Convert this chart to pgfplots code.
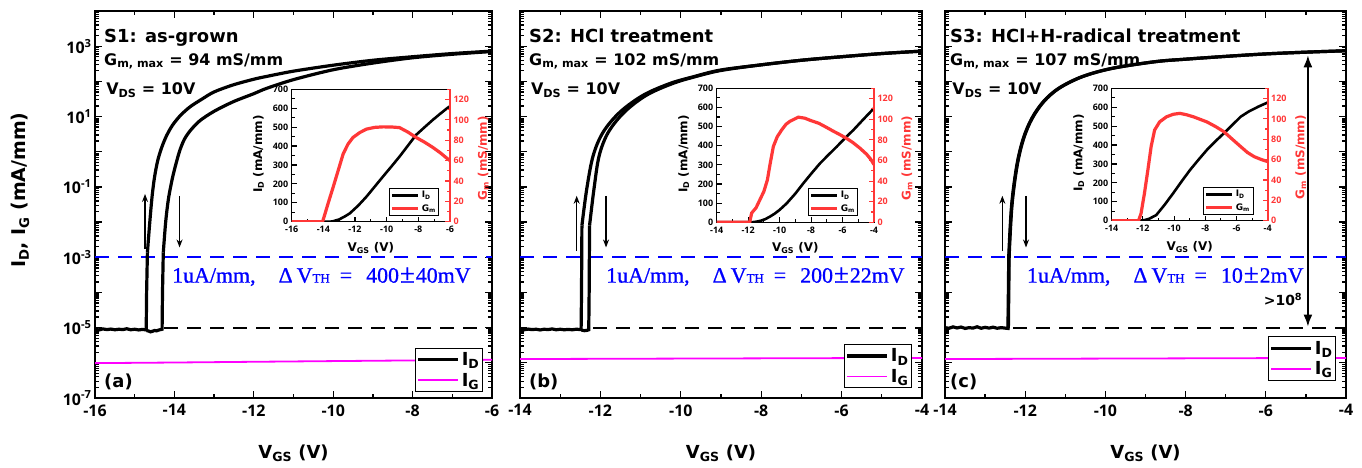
\documentclass[border=0pt]{standalone}
\usepackage{fontspec}
\setmainfont{Open Sans}
\newfontfamily\dvs{DejaVu Sans}
\newfontfamily\lser{Liberation Serif}[FakeBold=0.8]
\usepackage{pgfplots}
\pgfplotsset{compat=1.18}
\usetikzlibrary{arrows.meta}
\definecolor{myblue}{RGB}{0,0,255}
\definecolor{mymag}{RGB}{255,0,255}
\definecolor{myred}{RGB}{255,55,55}
\newcommand\tkf{\bfseries\fontsize{16}{16}\selectfont}
\newcommand\lbf{\dvs\bfseries\fontsize{18}{18}\selectfont}
\newcommand\itk{\bfseries\fontsize{9}{9}\selectfont}
\newcommand\ilb{\dvs\bfseries\fontsize{12}{12}\selectfont}
\newcommand\ann{\dvs\bfseries\fontsize{16}{16}\selectfont}
\newcommand\ttl{\dvs\bfseries\fontsize{18}{18}\selectfont}
\newcommand\lgf{\dvs\bfseries\fontsize{9}{9}\selectfont}
\newcommand\bluef{\lser\fontsize{22}{22}\selectfont}
\newcommand\thf{\fontsize{13}{13}\selectfont}
\newcommand\pmf{{\fontsize{27}{27}\selectfont ±}}
\tikzset{
  idline/.style={black, line width=3.2bp},
  igline/.style={mymag, line width=1.8bp},
  bdash/.style={myblue, line width=2.2bp, dash pattern=on 14bp off 9bp},
  kdash/.style={black, line width=2bp, dash pattern=on 14bp off 9bp},
  thinarr/.style={black, line width=1.2bp},
}
\begin{document}
\begin{tikzpicture}
\useasboundingbox (0,0) rectangle (1362bp,468bp);
%================ Panel (a)
\begin{axis}[at={(95bp,70bp)}, anchor=south west, scale only axis, width=397bp, height=387bp,
  xmin=-16, xmax=-6, ymode=log, ymin=1e-7, ymax=1e4,
  ytick={1e-7,1e-6,1e-5,1e-4,1e-3,1e-2,1e-1,1,1e1,1e2,1e3,1e4},
  yticklabels={10\textsuperscript{-7},,10\textsuperscript{-5},,10\textsuperscript{-3},,10\textsuperscript{-1},,10\textsuperscript{1},,10\textsuperscript{3},},
  minor ytick={2e-7,3e-7,4e-7,5e-7,6e-7,7e-7,8e-7,9e-7,2e-6,3e-6,4e-6,5e-6,6e-6,7e-6,8e-6,9e-6,
   2e-5,3e-5,4e-5,5e-5,6e-5,7e-5,8e-5,9e-5,2e-4,3e-4,4e-4,5e-4,6e-4,7e-4,8e-4,9e-4,
   2e-3,3e-3,4e-3,5e-3,6e-3,7e-3,8e-3,9e-3,0.02,0.03,0.04,0.05,0.06,0.07,0.08,0.09,
   0.2,0.3,0.4,0.5,0.6,0.7,0.8,0.9,2,3,4,5,6,7,8,9,20,30,40,50,60,70,80,90,
   200,300,400,500,600,700,800,900,2000,3000,4000,5000,6000,7000,8000,9000},
  xtick={-16,-14,-12,-10,-8,-6}, minor xtick={-15,-13,-11,-9,-7},
  axis line style={line width=2.2bp}, tick style={black, line width=1.3bp},
  major tick length=7bp, minor tick length=4bp, tick align=inside,
  /pgf/number format/assume math mode=true,
  ticklabel style={font=\tkf}, xticklabel style={yshift=-3bp},
  xlabel={V\textsubscript{GS} (V)},
  xlabel style={font=\lbf, at={(axis description cs:0.5,0)}, yshift=-55bp, anchor=center},
  ylabel={I\textsubscript{D}, I\textsubscript{G} (mA/mm)},
  ylabel style={font=\dvs\bfseries\fontsize{19}{19}\selectfont, at={(axis description cs:-0.189,0.537)}, anchor=center},
  legend cell align=left,
  legend style={at={(0.977,0.0155)}, anchor=south east, draw=black, line width=1bp, fill=white,
      font=\lbf, inner xsep=1bp, inner ysep=2bp, row sep=2bp, nodes={inner xsep=2bp}},
  legend image code/.code={\draw[#1] (0bp,0bp) -- (40bp,0bp);}]
\addplot[bdash, forget plot] coordinates {(-16,1e-3) (-6,1e-3)};
\addplot[kdash, forget plot] coordinates {(-14.25,1e-5) (-6,1e-5)};
\addplot[idline] coordinates {
(-16,9.0e-6) (-15.9,8.6e-6) (-15.8,9.2e-6) (-15.7,8.8e-6) (-15.6,9.1e-6) (-15.5,8.7e-6)
(-15.4,9.0e-6) (-15.3,8.8e-6) (-15.2,9.3e-6) (-15.1,8.7e-6) (-15.0,9.0e-6) (-14.9,8.6e-6)
(-14.8,8.9e-6) (-14.71,8.6e-6) (-14.70,1e-4) (-14.68,1.35e-3)};
\addlegendentry{I\textsubscript{D}}
\addplot[idline, smooth, tension=0.5, forget plot] coordinates {
(-14.68,1.35e-3) (-14.62,0.01) (-14.56,0.0562) (-14.50,0.191) (-14.42,0.562) (-14.32,1.32)
(-14.2,2.82) (-14.05,5.62) (-13.85,10.7) (-13.6,19.1) (-13.3,31.6) (-13.0,50.1) (-12.52,79.4)
(-12.0,115) (-11.68,138) (-11.0,195) (-10.0,288) (-9.0,398) (-8.0,501) (-7.0,617) (-6.0,724)};
\addplot[idline, forget plot] coordinates {
(-14.70,8.3e-6) (-14.65,8.0e-6) (-14.6,7.6e-6) (-14.55,7.9e-6) (-14.5,8.3e-6) (-14.45,8.1e-6)
(-14.4,8.5e-6) (-14.35,8.8e-6) (-14.31,9.0e-6) (-14.30,1e-4) (-14.28,1.35e-3)};
\addplot[idline, smooth, tension=0.5, forget plot] coordinates {
(-14.28,1.35e-3) (-14.22,0.01) (-14.15,0.0457) (-14.05,0.178) (-13.95,0.501) (-13.86,1.12)
(-13.75,2.24) (-13.6,3.98) (-13.36,7.59) (-13.0,14.1) (-12.52,26.3) (-12.0,44.7) (-11.68,63.1)
(-11.0,112) (-10.0,214) (-9.0,331) (-8.0,468) (-7.0,589) (-6.0,708)};
\addplot[igline] coordinates {(-16,0.98e-6) (-14,1.02e-6) (-12,1.07e-6) (-10,1.12e-6) (-8,1.17e-6) (-6,1.22e-6)};
\addlegendentry{I\textsubscript{G}}
\draw[thinarr, -{Stealth[length=8bp,width=6bp]}] (axis cs:-14.74,1.7e-3) -- (axis cs:-14.74,0.063);
\draw[thinarr, -{Stealth[length=8bp,width=6bp]}] (axis cs:-13.87,0.056) -- (axis cs:-13.87,1.9e-3);
\node[anchor=base west, inner sep=0, font=\ttl] at (axis description cs:0.0227,0.919) {S1: as-grown};
\node[anchor=base west, inner sep=0, font=\ann] at (axis description cs:0.0227,0.860) {G\textsubscript{m, max} = 94 mS/mm};
\node[anchor=base west, inner sep=0, font=\ann] at (axis description cs:0.028,0.783) {V\textsubscript{DS} = 10V};
\node[anchor=base west, inner sep=0, font=\ttl] at (axis description cs:0.0227,0.028) {(a)};
\node[anchor=base west, inner sep=0, text=myblue, font=\bluef] at (axis cs:-14.06,1.9e-4)
 {1uA/mm,\hspace{23bp}Δ\hspace{4bp}V{\thf TH}\hspace{10bp}=\hspace{14bp}400\hspace{1bp}\pmf\hspace{1bp}40mV};
\end{axis}
% inset (a)
\begin{axis}[at={(291.7bp,246.3bp)}, anchor=south west, scale only axis, width=158.3bp, height=132.4bp,
  xmin=-16, xmax=-6, ymin=0, ymax=700,
  ytick={0,100,...,700}, minor ytick={50,150,...,650},
  xtick={-16,-14,...,-6}, minor xtick={-15,-13,...,-7},
  xtick pos=bottom, ytick pos=left, tick align=inside,
  axis line style={line width=1.5bp}, tick style={black, line width=1.1bp},
  major tick length=5bp, minor tick length=3bp,
  /pgf/number format/assume math mode=true,
  ticklabel style={font=\itk}, xticklabel style={yshift=-1bp},
  axis background/.style={fill=white},
  xlabel={V\textsubscript{GS} (V)},
  xlabel style={font=\ilb, at={(axis description cs:0.5,0)}, yshift=-26bp, anchor=center},
  ylabel={I\textsubscript{D} (mA/mm)},
  ylabel style={font=\ilb, at={(axis description cs:-0.21,0.51)}, anchor=center},
  legend cell align=left,
  legend style={at={(0.932,0.043)}, anchor=south east, draw=black, line width=0.8bp, fill=white,
      font=\lgf, inner xsep=1bp, inner ysep=1bp, row sep=1bp},
  legend image code/.code={\draw[#1] (0bp,0bp) -- (26bp,0bp);}]
\addplot[black, line width=2.6bp] coordinates {
(-16,0) (-14,0) (-13.6,0) (-13.4,2) (-13.0,12) (-12.6,30) (-12.33,44) (-11.8,85) (-11.28,132)
(-10.76,185) (-10.24,238) (-9.7,292) (-9.19,344) (-8.66,402) (-8.14,459) (-7.6,500) (-7.09,538)
(-6.6,572) (-6.15,602) (-6,610)};
\addlegendentry{I\textsubscript{D}}
\addlegendimage{myred, line width=3.2bp}
\addlegendentry{G\textsubscript{m}}
\end{axis}
\begin{axis}[at={(291.7bp,246.3bp)}, anchor=south west, scale only axis, width=158.3bp, height=132.4bp,
  xmin=-16, xmax=-6, ymin=0, ymax=130,
  axis y line*=right, axis x line=none,
  ytick={0,20,...,120}, minor ytick={10,30,...,130}, tick align=inside,
  y axis line style={myred, line width=1.6bp}, tick style={myred, line width=1.1bp},
  major tick length=5bp, minor tick length=3bp,
  /pgf/number format/assume math mode=true,
  yticklabel style={font=\itk, text=myred},
  ylabel={G\textsubscript{m} (mS/mm)},
  ylabel style={font=\ilb, text=myred, at={(axis description cs:1.21,0.48)}, anchor=center}]
\addplot[myred, line width=3.2bp] coordinates {
(-16,0) (-14.05,0) (-13.95,5) (-13.7,18) (-13.38,34) (-13.05,51) (-12.75,66.5) (-12.45,76)
(-12.13,82.7) (-11.7,87.5) (-11.28,90.9) (-10.76,92.6) (-10.24,93.1) (-9.7,93) (-9.19,92.4)
(-8.66,88) (-8.14,82.7) (-7.6,78) (-7.09,73) (-6.6,67.5) (-6.15,61.7) (-6,60)};
\end{axis}
%================ Panel (b)
\begin{axis}[at={(520bp,70bp)}, anchor=south west, scale only axis, width=402bp, height=387bp,
  xmin=-14, xmax=-4, ymode=log, ymin=1e-7, ymax=1e4,
  ytick={1e-7,1e-6,1e-5,1e-4,1e-3,1e-2,1e-1,1,1e1,1e2,1e3,1e4}, yticklabels={},
  minor ytick={2e-7,3e-7,4e-7,5e-7,6e-7,7e-7,8e-7,9e-7,2e-6,3e-6,4e-6,5e-6,6e-6,7e-6,8e-6,9e-6,
   2e-5,3e-5,4e-5,5e-5,6e-5,7e-5,8e-5,9e-5,2e-4,3e-4,4e-4,5e-4,6e-4,7e-4,8e-4,9e-4,
   2e-3,3e-3,4e-3,5e-3,6e-3,7e-3,8e-3,9e-3,0.02,0.03,0.04,0.05,0.06,0.07,0.08,0.09,
   0.2,0.3,0.4,0.5,0.6,0.7,0.8,0.9,2,3,4,5,6,7,8,9,20,30,40,50,60,70,80,90,
   200,300,400,500,600,700,800,900,2000,3000,4000,5000,6000,7000,8000,9000},
  xtick={-14,-12,-10,-8,-6,-4}, minor xtick={-13,-11,-9,-7,-5},
  axis line style={line width=2.2bp}, tick style={black, line width=1.3bp},
  major tick length=7bp, minor tick length=4bp, tick align=inside,
  /pgf/number format/assume math mode=true,
  ticklabel style={font=\tkf}, xticklabel style={yshift=-3bp},
  xlabel={V\textsubscript{GS} (V)},
  xlabel style={font=\lbf, at={(axis description cs:0.5,0)}, yshift=-55bp, anchor=center},
  legend cell align=left,
  legend style={at={(0.975,0.025)}, anchor=south east, draw=black, line width=1bp, fill=white,
      font=\lbf, inner xsep=1bp, inner ysep=2bp, row sep=2bp, nodes={inner xsep=2bp}},
  legend image code/.code={\draw[#1] (0bp,0bp) -- (40bp,0bp);}]
\addplot[bdash, forget plot] coordinates {(-14,1e-3) (-4,1e-3)};
\addplot[kdash, forget plot] coordinates {(-12.18,1e-5) (-4,1e-5)};
\addplot[idline] coordinates {
(-14,9.0e-6) (-13.9,8.7e-6) (-13.8,9.1e-6) (-13.7,8.8e-6) (-13.6,9.0e-6) (-13.5,8.6e-6)
(-13.4,9.0e-6) (-13.3,8.8e-6) (-13.2,9.2e-6) (-13.1,8.7e-6) (-13.0,9.0e-6) (-12.9,8.7e-6)
(-12.8,8.9e-6) (-12.7,8.7e-6) (-12.6,9.0e-6) (-12.48,8.8e-6) (-12.47,1e-4) (-12.46,7.94e-3)};
\addlegendentry{I\textsubscript{D}}
\addplot[idline, smooth, tension=0.55, forget plot] coordinates {
(-12.46,7.94e-3) (-12.34,0.0871) (-12.18,0.776) (-11.93,3.63) (-11.51,13.5) (-10.93,40.7)
(-10.27,87.1) (-9.69,135) (-9.02,209) (-8,295) (-7,398) (-6,501) (-5,617) (-4,724)};
\addplot[idline, forget plot] coordinates {
(-12.47,8.5e-6) (-12.40,8.2e-6) (-12.33,8.4e-6) (-12.29,8.7e-6) (-12.28,1e-4) (-12.27,7.94e-3)};
\addplot[idline, smooth, tension=0.55, forget plot] coordinates {
(-12.27,7.94e-3) (-12.16,0.0871) (-12.03,0.776) (-11.8,3.63) (-11.4,13.5) (-10.85,40.7)
(-10.2,87.1) (-9.65,135) (-9.0,204) (-8,295) (-7,398) (-6,501) (-5,617) (-4,724)};
\addplot[igline] coordinates {(-14,1.28e-6) (-12,1.30e-6) (-10,1.32e-6) (-8,1.34e-6) (-6,1.36e-6) (-4,1.38e-6)};
\addlegendentry{I\textsubscript{G}}
\draw[thinarr, -{Stealth[length=8bp,width=6bp]}] (axis cs:-12.59,1.5e-3) -- (axis cs:-12.59,0.056);
\draw[thinarr, -{Stealth[length=8bp,width=6bp]}] (axis cs:-11.86,0.056) -- (axis cs:-11.86,1.9e-3);
\node[anchor=base west, inner sep=0, font=\ttl] at (axis description cs:0.0224,0.919) {S2: HCl treatment};
\node[anchor=base west, inner sep=0, font=\ann] at (axis description cs:0.0224,0.860) {G\textsubscript{m, max} = 102 mS/mm};
\node[anchor=base west, inner sep=0, font=\ann] at (axis description cs:0.027,0.783) {V\textsubscript{DS} = 10V};
\node[anchor=base west, inner sep=0, font=\ttl] at (axis description cs:0.0224,0.028) {(b)};
\node[anchor=base west, inner sep=0, text=myblue, font=\bluef] at (axis cs:-11.86,1.9e-4)
 {1uA/mm,\hspace{23bp}Δ\hspace{4bp}V{\thf TH}\hspace{10bp}=\hspace{14bp}200\hspace{1bp}\pmf\hspace{1bp}22mV};
\end{axis}
% inset (b)
\begin{axis}[at={(716.7bp,245.7bp)}, anchor=south west, scale only axis, width=157.3bp, height=134bp,
  xmin=-14, xmax=-4, ymin=0, ymax=700,
  ytick={0,100,...,700}, minor ytick={50,150,...,650},
  xtick={-14,-12,...,-4}, minor xtick={-13,-11,...,-5},
  xtick pos=bottom, ytick pos=left, tick align=inside,
  axis line style={line width=1.5bp}, tick style={black, line width=1.1bp},
  major tick length=5bp, minor tick length=3bp,
  /pgf/number format/assume math mode=true,
  ticklabel style={font=\itk}, xticklabel style={yshift=-1bp},
  axis background/.style={fill=white},
  xlabel={V\textsubscript{GS} (V)},
  xlabel style={font=\ilb, at={(axis description cs:0.5,0)}, yshift=-26bp, anchor=center},
  ylabel={I\textsubscript{D} (mA/mm)},
  ylabel style={font=\ilb, at={(axis description cs:-0.21,0.51)}, anchor=center},
  legend cell align=left,
  legend style={at={(0.90,0.047)}, anchor=south east, draw=black, line width=0.8bp, fill=white,
      font=\lgf, inner xsep=1bp, inner ysep=1bp, row sep=1bp},
  legend image code/.code={\draw[#1] (0bp,0bp) -- (26bp,0bp);}]
\addplot[black, line width=2.6bp] coordinates {
(-14,0) (-11.8,0) (-11.5,3) (-11.2,8) (-10.9,17) (-10.61,30) (-10.3,46) (-10.0,65) (-9.55,99)
(-9.0,150) (-8.49,204) (-7.95,258) (-7.43,308) (-6.9,352) (-6.37,395) (-5.84,440) (-5.31,482)
(-4.65,540) (-4,596)};
\addlegendentry{I\textsubscript{D}}
\addlegendimage{myred, line width=3.2bp}
\addlegendentry{G\textsubscript{m}}
\end{axis}
\begin{axis}[at={(716.7bp,245.7bp)}, anchor=south west, scale only axis, width=157.3bp, height=134bp,
  xmin=-14, xmax=-4, ymin=0, ymax=130,
  axis y line*=right, axis x line=none,
  ytick={0,20,...,120}, minor ytick={10,30,...,130}, tick align=inside,
  y axis line style={myred, line width=1.6bp}, tick style={myred, line width=1.1bp},
  major tick length=5bp, minor tick length=3bp,
  /pgf/number format/assume math mode=true,
  yticklabel style={font=\itk, text=myred},
  ylabel={G\textsubscript{m} (mS/mm)},
  ylabel style={font=\ilb, text=myred, at={(axis description cs:1.21,0.48)}, anchor=center}]
\addplot[myred, line width=3.2bp] coordinates {
(-14,0) (-11.9,0) (-11.78,9) (-11.5,14) (-11.25,22) (-11.0,30) (-10.78,41) (-10.6,57) (-10.40,73.5)
(-10.15,83) (-9.87,89.6) (-9.6,95) (-9.34,98) (-8.81,102) (-8.4,101) (-8.07,99) (-7.5,96)
(-7.01,92) (-6.6,88.5) (-6.16,85) (-5.7,81) (-5.31,77) (-4.9,72) (-4.47,66) (-4.2,61) (-4.0,56)};
\end{axis}
%================ Panel (c)
\begin{axis}[at={(945bp,70bp)}, anchor=south west, scale only axis, width=401bp, height=387bp,
  xmin=-14, xmax=-4, ymode=log, ymin=1e-7, ymax=1e4,
  ytick={1e-7,1e-6,1e-5,1e-4,1e-3,1e-2,1e-1,1,1e1,1e2,1e3,1e4}, yticklabels={},
  minor ytick={2e-7,3e-7,4e-7,5e-7,6e-7,7e-7,8e-7,9e-7,2e-6,3e-6,4e-6,5e-6,6e-6,7e-6,8e-6,9e-6,
   2e-5,3e-5,4e-5,5e-5,6e-5,7e-5,8e-5,9e-5,2e-4,3e-4,4e-4,5e-4,6e-4,7e-4,8e-4,9e-4,
   2e-3,3e-3,4e-3,5e-3,6e-3,7e-3,8e-3,9e-3,0.02,0.03,0.04,0.05,0.06,0.07,0.08,0.09,
   0.2,0.3,0.4,0.5,0.6,0.7,0.8,0.9,2,3,4,5,6,7,8,9,20,30,40,50,60,70,80,90,
   200,300,400,500,600,700,800,900,2000,3000,4000,5000,6000,7000,8000,9000},
  xtick={-14,-12,-10,-8,-6,-4}, minor xtick={-13,-11,-9,-7,-5},
  axis line style={line width=2.2bp}, tick style={black, line width=1.3bp},
  major tick length=7bp, minor tick length=4bp, tick align=inside,
  /pgf/number format/assume math mode=true,
  ticklabel style={font=\tkf}, xticklabel style={yshift=-3bp},
  xlabel={V\textsubscript{GS} (V)},
  xlabel style={font=\lbf, at={(axis description cs:0.5,0)}, yshift=-55bp, anchor=center},
  legend cell align=left,
  legend style={at={(0.975,0.045)}, anchor=south east, draw=black, line width=1bp, fill=white,
      font=\lbf, inner xsep=1bp, inner ysep=2bp, row sep=2bp, nodes={inner xsep=2bp}},
  legend image code/.code={\draw[#1] (0bp,0bp) -- (40bp,0bp);}]
\addplot[bdash, forget plot] coordinates {(-14,1e-3) (-4,1e-3)};
\addplot[kdash, forget plot] coordinates {(-12.3,1e-5) (-4,1e-5)};
\addplot[idline] coordinates {
(-14,1.0e-5) (-13.9,9.6e-6) (-13.8,1.05e-5) (-13.7,9.8e-6) (-13.6,1.04e-5) (-13.5,9.5e-6)
(-13.4,1.0e-5) (-13.3,9.7e-6) (-13.2,1.06e-5) (-13.1,9.6e-6) (-13.0,1.02e-5) (-12.9,9.7e-6)
(-12.8,1.03e-5) (-12.7,9.6e-6) (-12.6,1.0e-5) (-12.5,9.7e-6) (-12.43,9.5e-6) (-12.42,1e-4) (-12.41,1.1e-3)};
\addlegendentry{I\textsubscript{D}}
\addplot[idline, smooth, tension=0.55, forget plot] coordinates {
(-12.41,1.1e-3) (-12.34,0.0295) (-12.21,0.407) (-12.05,2.34) (-11.84,8.71) (-11.55,26.3)
(-11.17,63.1) (-10.59,135) (-9.84,234) (-8.76,363) (-8,427) (-7,513) (-6,603) (-5,676) (-4,741)};
\addplot[idline, forget plot] coordinates {
(-12.42,9.6e-6) (-12.41,1e-4) (-12.40,1.1e-3)};
\addplot[idline, smooth, tension=0.55, forget plot] coordinates {
(-12.40,1.1e-3) (-12.33,0.0295) (-12.20,0.407) (-12.04,2.34) (-11.83,8.71) (-11.54,26.3)
(-11.16,63.1) (-10.58,135) (-9.83,234) (-8.75,363) (-8,427) (-7,513) (-6,603) (-5,676) (-4,741)};
\addplot[igline] coordinates {(-14,1.28e-6) (-12,1.30e-6) (-10,1.32e-6) (-8,1.34e-6) (-6,1.36e-6) (-4,1.38e-6)};
\addlegendentry{I\textsubscript{G}}
\draw[thinarr, -{Stealth[length=8bp,width=6bp]}] (axis cs:-12.57,1.5e-3) -- (axis cs:-12.57,0.056);
\draw[thinarr, -{Stealth[length=8bp,width=6bp]}] (axis cs:-11.98,0.056) -- (axis cs:-11.98,1.9e-3);
\draw[black, line width=1.8bp, {Latex[length=12bp,width=9bp]}-{Latex[length=12bp,width=9bp]}] (axis cs:-4.95,550) -- (axis cs:-4.95,1.07e-5);
\node[font=\dvs\bfseries\fontsize{14}{14}\selectfont] at (axis cs:-5.57,6.3e-5) {>10\textsuperscript{8}};
\node[anchor=base west, inner sep=0, font=\ttl] at (axis description cs:0.0125,0.919) {S3: HCl+H-radical treatment};
\node[anchor=base west, inner sep=0, font=\ann] at (axis description cs:0.0125,0.860) {G\textsubscript{m, max} = 107 mS/mm};
\node[anchor=base west, inner sep=0, font=\ann] at (axis description cs:0.018,0.783) {V\textsubscript{DS} = 10V};
\node[anchor=base west, inner sep=0, font=\ttl] at (axis description cs:0.0125,0.028) {(c)};
\node[anchor=base west, inner sep=0, text=myblue, font=\bluef] at (axis cs:-11.96,1.9e-4)
 {1uA/mm,\hspace{23bp}Δ\hspace{4bp}V{\thf TH}\hspace{10bp}=\hspace{14bp}10\hspace{1bp}\pmf\hspace{1bp}2mV};
\end{axis}
% inset (c)
\begin{axis}[at={(1111.7bp,247.3bp)}, anchor=south west, scale only axis, width=156bp, height=132.4bp,
  xmin=-14, xmax=-4, ymin=0, ymax=700,
  ytick={0,100,...,700}, minor ytick={50,150,...,650},
  xtick={-14,-12,...,-4}, minor xtick={-13,-11,...,-5},
  xtick pos=bottom, ytick pos=left, tick align=inside,
  axis line style={line width=1.5bp}, tick style={black, line width=1.1bp},
  major tick length=5bp, minor tick length=3bp,
  /pgf/number format/assume math mode=true,
  ticklabel style={font=\itk}, xticklabel style={yshift=-1bp},
  axis background/.style={fill=white},
  xlabel={V\textsubscript{GS} (V)},
  xlabel style={font=\ilb, at={(axis description cs:0.5,0)}, yshift=-26bp, anchor=center},
  ylabel={I\textsubscript{D} (mA/mm)},
  ylabel style={font=\ilb, at={(axis description cs:-0.212,0.51)}, anchor=center},
  legend cell align=left,
  legend style={at={(0.908,0.043)}, anchor=south east, draw=black, line width=0.8bp, fill=white,
      font=\lgf, inner xsep=1bp, inner ysep=1bp, row sep=1bp},
  legend image code/.code={\draw[#1] (0bp,0bp) -- (26bp,0bp);}]
\addplot[black, line width=2.6bp] coordinates {
(-14,0) (-12.2,0) (-11.9,3) (-11.6,10) (-11.14,30) (-10.6,85) (-10.06,145) (-9.5,210) (-8.98,268)
(-8.44,322) (-7.9,374) (-7.35,420) (-6.81,462) (-6.27,506) (-5.73,550) (-5.2,578) (-4.6,603) (-4,625)};
\addlegendentry{I\textsubscript{D}}
\addlegendimage{myred, line width=3.2bp}
\addlegendentry{G\textsubscript{m}}
\end{axis}
\begin{axis}[at={(1111.7bp,247.3bp)}, anchor=south west, scale only axis, width=156bp, height=132.4bp,
  xmin=-14, xmax=-4, ymin=0, ymax=130,
  axis y line*=right, axis x line=none,
  ytick={0,20,...,120}, minor ytick={10,30,...,130}, tick align=inside,
  y axis line style={myred, line width=1.6bp}, tick style={myred, line width=1.1bp},
  major tick length=5bp, minor tick length=3bp,
  /pgf/number format/assume math mode=true,
  yticklabel style={font=\itk, text=myred},
  ylabel={G\textsubscript{m} (mS/mm)},
  ylabel style={font=\ilb, text=myred, at={(axis description cs:1.212,0.48)}, anchor=center}]
\addplot[myred, line width=3.2bp] coordinates {
(-14,0) (-12.28,0) (-12.12,7) (-11.90,27) (-11.68,50) (-11.47,73) (-11.25,89) (-10.93,97)
(-10.49,102) (-10.05,104.5) (-9.63,105.4) (-9.2,104) (-8.76,102) (-8.33,99.5) (-7.9,97)
(-7.35,92.5) (-6.81,87.4) (-6.27,80) (-5.73,72.7) (-5.3,67) (-4.87,62.9) (-4.4,60) (-4.0,58)};
\end{axis}
\end{tikzpicture}
\end{document}
